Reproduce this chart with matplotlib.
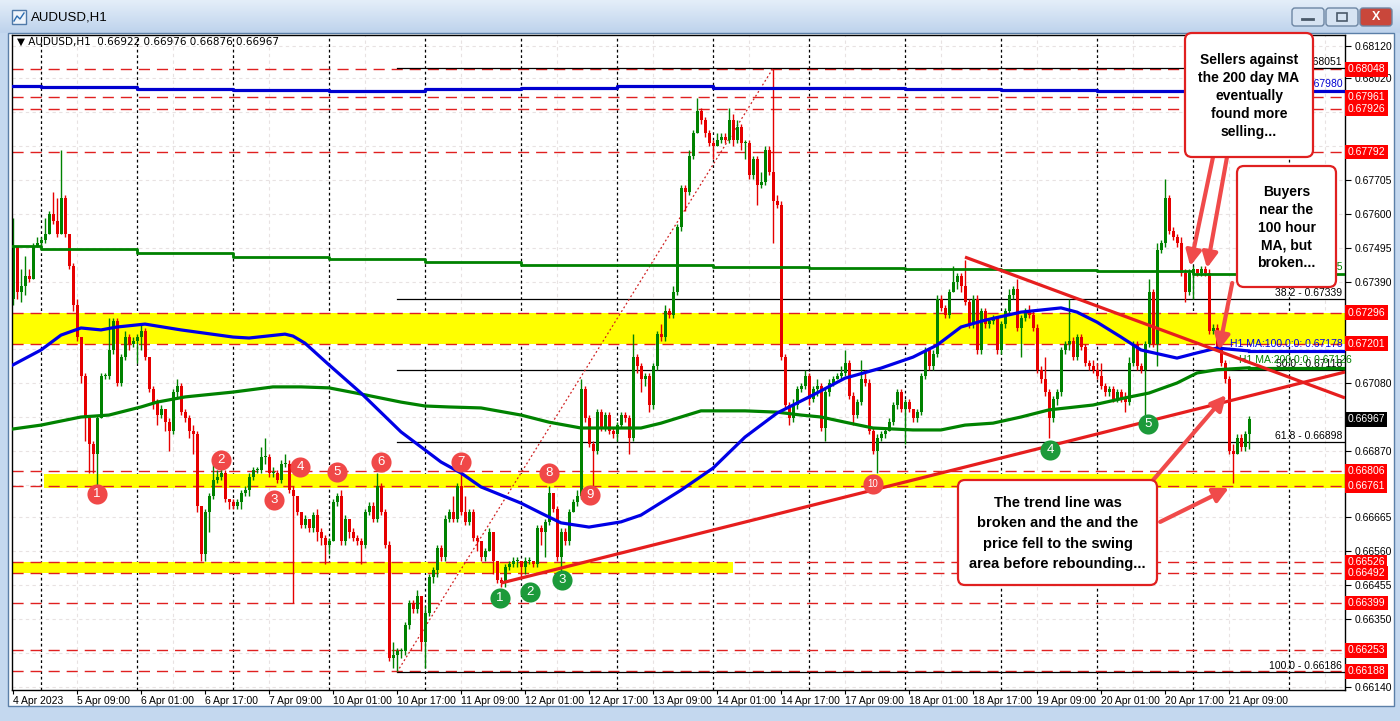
import matplotlib
matplotlib.use("Agg")
import matplotlib.pyplot as plt
import matplotlib.transforms as mtransforms
import numpy as np
from matplotlib.colors import LinearSegmentedColormap
from matplotlib.patches import FancyBboxPatch, Rectangle

plt.rcParams['font.family'] = ['Liberation Sans', 'DejaVu Sans']

# ---- hourly AUDUSD candles, prices in pips (0.0001) -------------------------
first_open = 6734
close_pips = [
    6750, 6736, 6738, 6741, 6740, 6750, 6751, 6752, 6754, 6760,
    6758, 6754, 6765, 6754, 6744, 6732, 6722, 6710, 6697, 6689,
    6686, 6697, 6710, 6710, 6718, 6727, 6708, 6716, 6722, 6720,
    6721, 6722, 6724, 6716, 6706, 6702, 6698, 6700, 6696, 6693,
    6705, 6707, 6699, 6697, 6693, 6692, 6670, 6655, 6668, 6673,
    6678, 6679, 6680, 6672, 6671, 6670, 6671, 6674, 6675, 6679,
    6681, 6681, 6685, 6685, 6680, 6680, 6678, 6683, 6683, 6675,
    6673, 6668, 6664, 6666, 6663, 6667, 6662, 6660, 6658, 6659,
    6671, 6673, 6659, 6666, 6662, 6660, 6659, 6658, 6668, 6670,
    6666, 6676, 6668, 6658, 6623, 6624, 6625, 6625, 6633, 6640,
    6638, 6642, 6628, 6637, 6648, 6650, 6657, 6654, 6666, 6668,
    6666, 6676, 6668, 6665, 6668, 6660, 6659, 6654, 6656, 6662,
    6653, 6647, 6646, 6651, 6652, 6653, 6653, 6651, 6653, 6653,
    6652, 6663, 6662, 6665, 6674, 6669, 6654, 6662, 6659, 6668,
    6671, 6673, 6706, 6697, 6689, 6687, 6699, 6694, 6698, 6693,
    6692, 6695, 6698, 6697, 6691, 6716, 6713, 6709, 6710, 6701,
    6713, 6723, 6722, 6730, 6729, 6736, 6756, 6768, 6767, 6778,
    6785, 6792, 6789, 6785, 6782, 6781, 6783, 6784, 6783, 6789,
    6783, 6787, 6782, 6782, 6772, 6777, 6769, 6770, 6780, 6773,
    6764, 6763, 6716, 6701, 6697, 6701, 6706, 6707, 6710, 6703,
    6706, 6707, 6694, 6705, 6708, 6709, 6710, 6711, 6714, 6704,
    6698, 6702, 6709, 6708, 6693, 6687, 6691, 6692, 6693, 6696,
    6701, 6705, 6700, 6702, 6700, 6697, 6699, 6710, 6718, 6713,
    6717, 6734, 6731, 6729, 6736, 6739, 6741, 6738, 6733, 6726,
    6734, 6718, 6730, 6726, 6727, 6728, 6718, 6726, 6730, 6735,
    6737, 6725, 6728, 6730, 6729, 6725, 6712, 6709, 6705, 6697,
    6703, 6705, 6718, 6720, 6721, 6716, 6722, 6719, 6714, 6713,
    6712, 6710, 6707, 6705, 6706, 6703, 6705, 6703, 6702, 6714,
    6720, 6713, 6712, 6720, 6736, 6720, 6749, 6751, 6765, 6755,
    6753, 6751, 6742, 6736, 6742, 6743, 6742, 6743, 6742, 6724,
    6725, 6719, 6714, 6709, 6687, 6686, 6691, 6688, 6692, 6696.7,
]
high_pips = [
    6759, 6750, 6743, 6747, 6743, 6751, 6753, 6753, 6759, 6761,
    6767, 6765, 6780, 6766, 6754, 6745, 6734, 6722, 6711, 6698,
    6690, 6698, 6711, 6711, 6728, 6728, 6728, 6717, 6724, 6723,
    6722, 6723, 6726, 6725, 6716, 6707, 6703, 6701, 6700, 6697,
    6706, 6709, 6708, 6700, 6698, 6695, 6693, 6670, 6669, 6674,
    6683, 6681, 6683, 6681, 6672, 6672, 6672, 6675, 6676, 6680,
    6682, 6682, 6688, 6691, 6686, 6682, 6681, 6684, 6686, 6684,
    6676, 6673, 6668, 6667, 6666, 6668, 6669, 6663, 6661, 6660,
    6672, 6674, 6675, 6667, 6666, 6663, 6661, 6660, 6669, 6671,
    6671, 6680, 6677, 6669, 6659, 6628, 6626, 6626, 6634, 6641,
    6641, 6644, 6642, 6639, 6649, 6651, 6658, 6658, 6667, 6669,
    6673, 6677, 6680, 6673, 6669, 6669, 6661, 6659, 6657, 6663,
    6662, 6653, 6648, 6652, 6653, 6654, 6654, 6653, 6654, 6654,
    6653, 6664, 6664, 6666, 6676, 6674, 6670, 6663, 6663, 6669,
    6672, 6675, 6709, 6707, 6698, 6690, 6700, 6700, 6699, 6699,
    6694, 6696, 6699, 6699, 6698, 6723, 6717, 6714, 6711, 6711,
    6714, 6724, 6726, 6732, 6731, 6738, 6757, 6769, 6769, 6780,
    6786, 6796, 6793, 6790, 6786, 6783, 6785, 6785, 6785, 6793,
    6791, 6789, 6788, 6783, 6783, 6778, 6778, 6773, 6781, 6781,
    6805, 6766, 6764, 6717, 6702, 6703, 6707, 6708, 6712, 6711,
    6707, 6709, 6708, 6706, 6709, 6710, 6711, 6713, 6718, 6715,
    6705, 6703, 6715, 6712, 6709, 6694, 6692, 6693, 6694, 6697,
    6702, 6706, 6706, 6703, 6703, 6700, 6700, 6711, 6719, 6719,
    6718, 6735, 6735, 6732, 6737, 6744, 6742, 6742, 6746, 6734,
    6735, 6735, 6731, 6731, 6728, 6729, 6728, 6727, 6731, 6737,
    6738, 6740, 6729, 6731, 6732, 6730, 6726, 6713, 6716, 6706,
    6704, 6706, 6719, 6721, 6734, 6722, 6723, 6723, 6720, 6715,
    6715, 6714, 6714, 6708, 6707, 6707, 6706, 6706, 6705, 6716,
    6721, 6721, 6714, 6721, 6740, 6737, 6751, 6752, 6771, 6766,
    6756, 6754, 6753, 6743, 6743, 6744, 6743, 6744, 6744, 6743,
    6726, 6726, 6720, 6715, 6710, 6689, 6692, 6692, 6693, 6697.6,
]
low_pips = [
    6732, 6734, 6733, 6735, 6739, 6740, 6750, 6750, 6751, 6754,
    6757, 6753, 6754, 6753, 6743, 6730, 6721, 6708, 6690, 6680,
    6680, 6676, 6697, 6709, 6709, 6717, 6707, 6707, 6715, 6718,
    6719, 6714, 6718, 6715, 6705, 6700, 6695, 6697, 6693, 6687,
    6692, 6703, 6698, 6696, 6691, 6686, 6668, 6653, 6653, 6662,
    6672, 6677, 6678, 6671, 6669, 6669, 6669, 6669, 6673, 6673,
    6678, 6680, 6680, 6683, 6679, 6679, 6677, 6677, 6682, 6674,
    6640, 6667, 6663, 6663, 6662, 6662, 6659, 6658, 6652, 6655,
    6659, 6670, 6658, 6658, 6660, 6659, 6658, 6652, 6657, 6667,
    6665, 6665, 6667, 6657, 6622, 6620, 6619, 6623, 6624, 6632,
    6637, 6637, 6625, 6620, 6636, 6646, 6648, 6653, 6653, 6665,
    6665, 6665, 6667, 6664, 6664, 6659, 6656, 6653, 6653, 6656,
    6649, 6646, 6645, 6645, 6650, 6651, 6651, 6648, 6649, 6652,
    6651, 6651, 6658, 6654, 6664, 6668, 6653, 6649, 6658, 6658,
    6668, 6670, 6672, 6696, 6688, 6676, 6686, 6693, 6693, 6692,
    6691, 6690, 6694, 6696, 6686, 6690, 6711, 6705, 6707, 6699,
    6700, 6712, 6721, 6721, 6728, 6728, 6735, 6755, 6761, 6766,
    6777, 6785, 6788, 6784, 6781, 6777, 6781, 6782, 6782, 6782,
    6781, 6782, 6780, 6777, 6771, 6771, 6763, 6768, 6769, 6772,
    6751, 6762, 6715, 6700, 6695, 6696, 6700, 6705, 6706, 6701,
    6702, 6704, 6693, 6690, 6704, 6707, 6709, 6709, 6710, 6703,
    6695, 6697, 6701, 6707, 6692, 6686, 6680, 6690, 6691, 6693,
    6695, 6700, 6699, 6689, 6699, 6696, 6696, 6698, 6709, 6712,
    6712, 6716, 6730, 6728, 6728, 6736, 6737, 6736, 6732, 6725,
    6725, 6717, 6717, 6725, 6725, 6726, 6717, 6717, 6725, 6729,
    6734, 6724, 6716, 6727, 6728, 6724, 6711, 6708, 6704, 6691,
    6696, 6701, 6704, 6717, 6718, 6715, 6715, 6718, 6713, 6712,
    6711, 6709, 6706, 6704, 6704, 6702, 6702, 6702, 6699, 6701,
    6713, 6712, 6711, 6696, 6719, 6719, 6713, 6748, 6750, 6754,
    6752, 6750, 6741, 6733, 6735, 6734, 6741, 6741, 6741, 6723,
    6723, 6718, 6713, 6708, 6686, 6677, 6686, 6687, 6687, 6687.6,
]

# ---- moving averages (bar index, pips) --------------------------------------
ma100_bar = [0, 7, 12, 17, 22, 26, 33, 42, 55, 59, 68, 70, 73, 79, 87, 97, 107,
             112, 117, 122, 127, 132, 137, 144, 152, 157, 167, 175, 183, 191,
             200, 208, 217, 225, 231, 237, 243, 252, 262, 266, 271, 277, 282,
             291, 296, 301, 309]
ma100_pips = [6713.5, 6718.1, 6722.7, 6724.9, 6724.3, 6725.2, 6726.1, 6724.3,
              6722.1, 6721.8, 6723.0, 6722.4, 6720.2, 6713.5, 6704.8, 6692.8,
              6683.5, 6680.1, 6675.8, 6673.3, 6670.8, 6667.7, 6664.7, 6663.4,
              6665.0, 6667.1, 6674.8, 6681.6, 6691.2, 6698.6, 6704.2, 6709.4,
              6712.5, 6715.9, 6719.6, 6725.2, 6727.3, 6729.8, 6731.1, 6729.8,
              6726.7, 6722.1, 6718.1, 6715.6, 6717.2, 6718.7, 6717.8]
ma200_bar = [0, 7, 17, 24, 32, 36, 43, 55, 65, 72, 79, 87, 97, 103, 109, 117,
             127, 134, 142, 157, 162, 167, 172, 183, 191, 197, 202, 208, 215,
             225, 232, 238, 245, 252, 259, 270, 278, 284, 291, 296, 301, 309]
ma200_pips = [6693.7, 6694.9, 6697.4, 6698.0, 6700.5, 6702.0, 6703.6, 6705.1,
              6706.7, 6706.7, 6706.4, 6704.5, 6702.0, 6700.8, 6700.5, 6700.2,
              6698.0, 6695.8, 6694.0, 6694.0, 6695.5, 6697.4, 6699.3, 6699.3,
              6698.9, 6698.0, 6697.4, 6695.8, 6694.0, 6693.4, 6693.4, 6694.9,
              6695.5, 6697.4, 6699.6, 6701.1, 6703.3, 6704.8, 6707.9, 6711.0,
              6712.0, 6712.6]
# daily MAs (one value per trading day, day starts at these bars)
day_start = [-0.25, 7, 31, 55, 79, 103, 127, 151, 175, 199, 223, 247, 271, 295]
d100_pips = [6799.6, 6799.3, 6798.7, 6798.4, 6798.1, 6798.7, 6799.0, 6799.6,
             6799.0, 6799.0, 6798.7, 6798.4, 6798.2, 6798.0]
d200_pips = [6750.2, 6749.3, 6748.0, 6746.8, 6746.2, 6745.3, 6744.3, 6744.3,
             6743.7, 6743.4, 6743.1, 6742.8, 6742.6, 6741.5]

red_levels = [0.68048, 0.67961, 0.67926, 0.67792, 0.67296, 0.67201, 0.66806,
              0.66761, 0.66526, 0.66492, 0.66399, 0.66253, 0.66188]
fib_pct = ['0.0', '38.2', '50.0', '61.8', '100.0']
fib_price = [0.68051, 0.67339, 0.67118, 0.66898, 0.66186]
fib_start = 96
fib_diag = [(96, 0.66186), (190, 0.68051)]
trend_up = [(122, 0.66461), (333, 0.67113)]
trend_down = [(238, 0.67468), (333, 0.67033)]

red_marks = [(21, 0.66736, '1'), (52, 0.66841, '2'), (65.25, 0.66717, '3'),
             (71.75, 0.66820, '4'), (81, 0.66804, '5'), (92, 0.66835, '6'),
             (112, 0.66835, '7'), (134, 0.66801, '8'), (144.25, 0.66733, '9'),
             (215, 0.66767, '10')]
green_marks = [(121.75, 0.66415, '1'), (129.25, 0.66433, '2'),
               (137.25, 0.66470, '3'), (259.25, 0.66872, '4'),
               (283.75, 0.66952, '5')]

x_labels = ['4 Apr 2023', '5 Apr 09:00', '6 Apr 01:00', '6 Apr 17:00',
            '7 Apr 09:00', '10 Apr 01:00', '10 Apr 17:00', '11 Apr 09:00',
            '12 Apr 01:00', '12 Apr 17:00', '13 Apr 09:00', '14 Apr 01:00',
            '14 Apr 17:00', '17 Apr 09:00', '18 Apr 01:00', '18 Apr 17:00',
            '19 Apr 09:00', '20 Apr 01:00', '20 Apr 17:00', '21 Apr 09:00']
y_ticks = [0.68120, 0.68020, 0.67915, 0.67810, 0.67705, 0.67600, 0.67495,
           0.67390, 0.67285, 0.67185, 0.67080, 0.66975, 0.66870, 0.66765,
           0.66665, 0.66560, 0.66455, 0.66350, 0.66245, 0.66140]
# tick labels that sit under a price tag in the reference
y_hidden = [0.67915, 0.67810, 0.67285, 0.67185, 0.66975, 0.66765, 0.66245]

# arrows (from, to) in (bar, price)
arrows = [((300, 0.67777), (294.3, 0.67440)),
          ((303.5, 0.67777), (298.5, 0.67434)),
          ((304.8, 0.67388), (301.5, 0.67181)),
          ((284.8, 0.66776), (303.3, 0.67042)),
          ((286.8, 0.66650), (304.0, 0.66755))]

W, H = 1400, 721
RED, GREEN = '#e60000', '#008200'

fig = plt.figure(figsize=(14, 7.21), dpi=100)
fig.patch.set_facecolor('#c4d8ef')

# ---- window chrome -----------------------------------------------------------
bg = fig.add_axes([0, 0, 1, 1], zorder=0)
bg.set_xlim(0, W)
bg.set_ylim(H, 0)
bg.axis('off')
cmap = LinearSegmentedColormap.from_list('tb', ['#e4eef9', '#bed3ec'])
bg.imshow(np.linspace(0, 1, 40)[:, None], extent=(0, W, 33, 0), cmap=cmap,
          aspect='auto')
bg.add_patch(Rectangle((8, 33), 1386, 673, fc='white', ec='#5b7fa8', lw=1))
bg.add_patch(Rectangle((12, 10), 14, 14, fc='#eef4fb', ec='#4f79a8', lw=1))
bg.plot([14, 17, 20, 24], [21, 16, 19, 13], color='#2b6cb0', lw=1)
bg.text(31, 18, 'AUDUSD,H1', fontsize=9.5, va='center', color='black')
for x0, fc in [(1292, '#d6e3f2'), (1326, '#d6e3f2'), (1360, '#c9473b')]:
    bg.add_patch(FancyBboxPatch((x0, 8), 32, 18,
                                boxstyle='round,pad=0,rounding_size=3',
                                fc=fc, ec='#6d86a3', lw=1))
bg.plot([1302, 1313], [19, 19], color='#4a5a6a', lw=2)
bg.add_patch(Rectangle((1337, 13), 10, 8, fc='none', ec='#4a5a6a', lw=1.2))
bg.text(1376, 17, 'X', fontsize=9, fontweight='bold', color='white',
        ha='center', va='center')

# ---- chart -------------------------------------------------------------------
ax = fig.add_axes([12 / W, 1 - 690 / H, 1333 / W, 655 / H], zorder=1)
ax.set_xlim(-0.25, 333)
ax.set_ylim(0.661307, 0.681540)
ax.set_facecolor('white')
for s in ax.spines.values():
    s.set_color('black')
    s.set_linewidth(1)

close = np.array(close_pips) / 1e4
high = np.array(high_pips) / 1e4
low = np.array(low_pips) / 1e4
opn = np.concatenate([[first_open / 1e4], close[:-1]])
bars = np.arange(len(close))

# grid & day separators
for t in y_ticks:
    ax.axhline(t, color='#e8e2e2', lw=0.8, ls=(0, (3, 3)), zorder=0.3)
for b in range(16, 334, 24):
    ax.axvline(b, color='#e8e2e2', lw=0.8, ls=(0, (3, 3)), zorder=0.3)
for b in day_start[1:] + [319]:
    ax.axvline(b, color='black', lw=0.9, ls=(0, (2.2, 2.2)), zorder=0.4)

# yellow swing zones
ax.fill_between([-0.25, 333], 0.67201, 0.67296, color='#ffff00', lw=0, zorder=0.5)
ax.fill_between([7.75, 333], 0.66755, 0.66797, color='#ffff00', lw=0, zorder=0.5)
ax.fill_between([-0.25, 180], 0.66492, 0.66526, color='#ffff00', lw=0, zorder=0.5)

for lvl in red_levels:
    ax.axhline(lvl, color='#e02020', lw=1, ls=(0, (8, 5)), zorder=1)

# fib retracement (the 0.0 label mostly sits behind the first callout)
for pct, p in zip(fib_pct, fib_price):
    ax.plot([fib_start, 333], [p, p], color='black', lw=0.9, zorder=1.2)
    lab = f'{p:.5f}' if pct == '0.0' else f'{pct} - {p:.5f}'
    ax.text(332.3, p + 0.00003, lab, fontsize=7.5,
            ha='right', va='bottom', zorder=1.3)
ax.plot(*zip(*fib_diag), color='#d02020', lw=0.9, ls=(0, (1.5, 2)), zorder=1.2)

# candles
up = close >= opn
cols = np.where(up, GREEN, RED)
body = close - opn
body = np.where(np.abs(body) < 0.00003, 0.00003, body)
ax.vlines(bars, low, high, colors=cols, lw=1, zorder=2)
ax.bar(bars, body, bottom=opn, width=0.75, color=cols, lw=0, zorder=2.1)

# moving averages
ax.plot(ma200_bar, np.array(ma200_pips) / 1e4, color=GREEN, lw=2.3, zorder=3)
ax.plot([309, 333], [ma200_pips[-1] / 1e4] * 2, color=GREEN, lw=2.3, zorder=3)
ax.plot(ma100_bar, np.array(ma100_pips) / 1e4, color='#0000e6', lw=2.3, zorder=3.1)
ax.plot([309, 333], [ma100_pips[-1] / 1e4] * 2, color='#0000e6', lw=2.3, zorder=3.1)
ax.step(day_start + [333], np.array(d100_pips + d100_pips[-1:]) / 1e4,
        where='post', color='#0000d0', lw=2.3, zorder=3)
ax.step(day_start + [333], np.array(d200_pips + d200_pips[-1:]) / 1e4,
        where='post', color=GREEN, lw=2, zorder=3)
ax.text(332.5, d100_pips[-1] / 1e4 + 0.00006, f'{d100_pips[-1] / 1e4:.5f}',
        color='#0000d0', fontsize=7.5, ha='right', va='bottom', zorder=3.2)
ax.text(332.5, d200_pips[-1] / 1e4 + 0.00006, f'{d200_pips[-1] / 1e4:.5f}',
        color=GREEN, fontsize=7.5, ha='right', va='bottom', zorder=3.2)
ax.text(332.5, ma100_pips[-1] / 1e4 + 0.00006, f'H1 MA:100.0:0: {ma100_pips[-1] / 1e4:.5f}',
        color='#0000e6', fontsize=7.5, ha='right', va='bottom', zorder=3.2)
ax.text(306.5, ma200_pips[-1] / 1e4 + 0.00008, f'H1 MA:200.0:0: {ma200_pips[-1] / 1e4:.5f}',
        color=GREEN, fontsize=7.5, ha='left', va='bottom', zorder=3.2)

# trend lines
for seg in (trend_up, trend_down):
    ax.plot(*zip(*seg), color='#e61e1e', lw=2.3, zorder=3.5,
            solid_capstyle='butt')

# swing markers
for pts, col in ((red_marks, '#f04848'), (green_marks, '#1c9a3a')):
    xs = [p[0] for p in pts]
    ys = [p[1] for p in pts]
    ax.scatter(xs, ys, s=210, color=col, zorder=4, linewidths=0)
    for x, y, lab in pts:
        ax.text(x, y, lab, color='white', fontsize=9.5 if len(lab) == 1 else 7,
                ha='center', va='center', zorder=4.1)

# arrows
for (x0, y0), (x1, y1) in arrows:
    ax.annotate('', xy=(x1, y1), xytext=(x0, y0), annotation_clip=False,
                arrowprops=dict(arrowstyle='-|>,head_length=0.9,head_width=0.45',
                                color='#f04a4a', lw=3, shrinkA=0, shrinkB=0),
                zorder=4.5)

# axes ticks
ax.yaxis.tick_right()
ax.set_yticks(y_ticks)
ax.set_yticklabels(['' if t in y_hidden else f'{t:.5f}' for t in y_ticks])
ax.tick_params(axis='y', length=4, width=0.8, labelsize=7.5, pad=3)
ax.set_xticks(np.arange(0, 16 * len(x_labels), 16))
ax.set_xticklabels(x_labels, ha='left')
ax.tick_params(axis='x', length=3, width=0.8, labelsize=7.5, pad=1)

# price tags on the axis
tr = mtransforms.blended_transform_factory(ax.transAxes, ax.transData)
for lvl in red_levels:
    ax.text(1.002, lvl, f'{lvl:.5f}', transform=tr, color='white', fontsize=7.5,
            va='center', ha='left', clip_on=False, zorder=6,
            bbox=dict(boxstyle='square,pad=0.22', fc='#ff0000', ec='none'))
ax.text(1.002, close[-1], f'{close[-1]:.5f}', transform=tr, color='white',
        fontsize=7.5, va='center', ha='left', clip_on=False, zorder=6,
        bbox=dict(boxstyle='square,pad=0.22', fc='black', ec='none'))

# ---- overlay: header and callouts ------------------------------------------
ov = fig.add_axes([0, 0, 1, 1], zorder=2)
ov.set_xlim(0, W)
ov.set_ylim(H, 0)
ov.axis('off')
ov.patch.set_alpha(0)
ov.text(17, 42, '\u25bc AUDUSD,H1  0.66922 0.66976 0.66876 0.66967',
        fontsize=7.5, va='center', ha='left', family=['DejaVu Sans'])

callouts = [
    ((1185, 33, 128, 124), 'Sellers against\nthe 200 day MA\neventually\nfound more\nselling...', 10, 1.35),
    ((1237, 166, 99, 121), 'Buyers\nnear the\n100 hour\nMA, but\nbroken...', 10, 1.35),
    ((958, 480, 199, 105), 'The trend line was\nbroken and the and the\nprice fell to the swing\narea before rebounding...', 10.5, 1.55),
]
for (x0, y0, w, h), txt, fs, ls in callouts:
    ov.add_patch(FancyBboxPatch((x0, y0), w, h,
                                boxstyle='round,pad=0,rounding_size=7',
                                fc='white', ec='#e02020', lw=1.6))
    ov.text(x0 + w / 2, y0 + h / 2 + 1, txt, fontsize=fs, fontweight='bold',
            ha='center', va='center', linespacing=ls)

fig.savefig('out.png', dpi=100)
